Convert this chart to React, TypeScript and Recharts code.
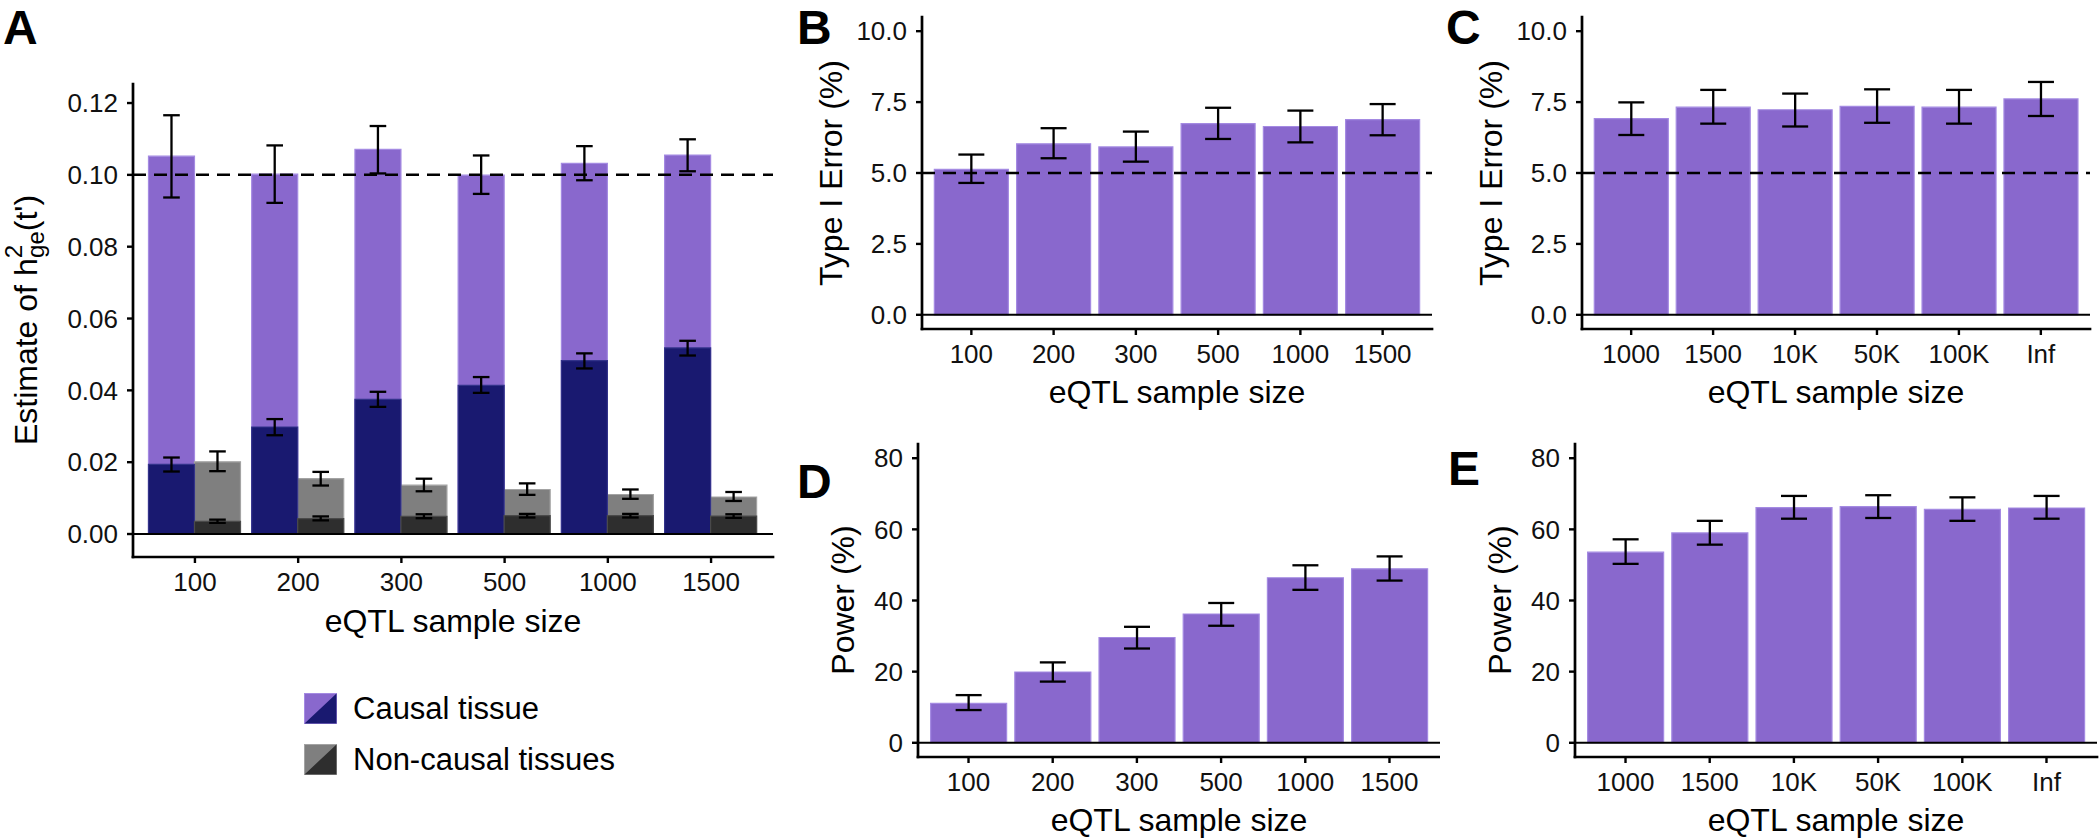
import React from 'react'
import { BarChart, Bar, XAxis, YAxis, ErrorBar, ReferenceLine, Legend } from 'recharts'

const FONT = '"Liberation Sans", Arial, Helvetica, sans-serif'

const PURPLE = '#8968CD'
const PURPLE_EDGE = '#A48AE2'
const NAVY = '#191970'
const NAVY_EDGE = '#33338A'
const GRAY = '#7F7F7F'
const GRAY_EDGE = '#A3A3A3'
const DARK = '#2E2E2E'
const DARK_EDGE = '#4A4A4A'

// panel A: estimate of h2ge(t') by eQTL sample size
const sizesA = ['100', '200', '300', '500', '1000', '1500']
const causalTotal = [0.1052, 0.1002, 0.1071, 0.0999, 0.1032, 0.1055]
const causalTotalLo = [0.0937, 0.0922, 0.1004, 0.0947, 0.0985, 0.101]
const causalTotalHi = [0.1166, 0.1082, 0.1136, 0.1054, 0.108, 0.1099]
const causalPart = [0.0194, 0.0298, 0.0375, 0.0414, 0.0483, 0.0518]
const causalPartLo = [0.0174, 0.0275, 0.0354, 0.0393, 0.0461, 0.0497]
const causalPartHi = [0.0213, 0.032, 0.0396, 0.0437, 0.0503, 0.0538]
const nonTotal = [0.0201, 0.0154, 0.0136, 0.0124, 0.011, 0.0103]
const nonTotalLo = [0.0175, 0.0135, 0.0119, 0.0109, 0.0098, 0.0092]
const nonTotalHi = [0.023, 0.0173, 0.0154, 0.0141, 0.0124, 0.0117]
const nonPart = [0.0035, 0.0043, 0.0049, 0.0051, 0.0051, 0.005]
const nonPartLo = [0.0031, 0.0038, 0.0044, 0.0046, 0.0046, 0.0045]
const nonPartHi = [0.004, 0.0049, 0.0055, 0.0056, 0.0056, 0.0055]
const ticksA = [0, 0.02, 0.04, 0.06, 0.08, 0.1, 0.12]
const legendA = [
  { label: 'Causal tissue', light: PURPLE, dark: NAVY, edge: PURPLE_EDGE },
  { label: 'Non-causal tissues', light: GRAY, dark: DARK, edge: GRAY_EDGE },
]

// panels B-E
const sizesSmall = ['100', '200', '300', '500', '1000', '1500']
const sizesLarge = ['1000', '1500', '10K', '50K', '100K', 'Inf']

const typeISmall = [5.13, 6.03, 5.92, 6.74, 6.64, 6.88]
const typeISmallLo = [4.65, 5.52, 5.4, 6.2, 6.08, 6.33]
const typeISmallHi = [5.65, 6.58, 6.46, 7.3, 7.2, 7.43]

const typeILarge = [6.92, 7.32, 7.23, 7.35, 7.32, 7.61]
const typeILargeLo = [6.34, 6.74, 6.64, 6.77, 6.74, 7.01]
const typeILargeHi = [7.49, 7.93, 7.8, 7.95, 7.93, 8.21]

const powerSmall = [11.1, 19.9, 29.6, 36.2, 46.4, 48.9]
const powerSmallLo = [9.2, 17.2, 26.5, 32.9, 43.0, 45.6]
const powerSmallHi = [13.4, 22.6, 32.6, 39.3, 49.9, 52.4]

const powerLarge = [53.6, 59.0, 66.1, 66.4, 65.6, 66.0]
const powerLargeLo = [50.3, 55.7, 63.0, 63.2, 62.4, 63.0]
const powerLargeHi = [57.2, 62.4, 69.4, 69.6, 69.0, 69.4]

const ticksTypeI = [0, 2.5, 5, 7.5, 10]
const ticksPower = [0, 20, 40, 60, 80]

const withErr = (v: number, lo: number, hi: number) => [v - lo, hi - v]

const dataA = sizesA.map((n, i) => ({
  n,
  causalTotal: causalTotal[i],
  causalTotalErr: withErr(causalTotal[i], causalTotalLo[i], causalTotalHi[i]),
  causalPart: causalPart[i],
  causalPartErr: withErr(causalPart[i], causalPartLo[i], causalPartHi[i]),
  nonTotal: nonTotal[i],
  nonTotalErr: withErr(nonTotal[i], nonTotalLo[i], nonTotalHi[i]),
  nonPart: nonPart[i],
  nonPartErr: withErr(nonPart[i], nonPartLo[i], nonPartHi[i]),
}))

const makeData = (sizes: string[], v: number[], lo: number[], hi: number[]) =>
  sizes.map((n, i) => ({ n, v: v[i], err: withErr(v[i], lo[i], hi[i]) }))

const axisLineStyle = { stroke: '#000', strokeWidth: 2.7, strokeLinecap: 'square' as const }
const tickLineStyle = { stroke: '#000', strokeWidth: 2.4 }
const tickStyle = { fill: '#111', fontSize: 26, fontFamily: FONT }

function LegendBoxes() {
  return (
    <div style={{ fontFamily: FONT }}>
      {legendA.map((it, i) => (
        <div key={it.label} style={{ display: 'flex', alignItems: 'center', height: 31, marginBottom: i === 0 ? 20 : 0 }}>
          <svg width={33} height={31} style={{ display: 'block' }}>
            <rect x={0.5} y={0.5} width={32} height={30} fill={it.light} stroke={it.edge} strokeWidth={1} />
            <polygon points="0.5,30.5 32.5,0.5 32.5,30.5" fill={it.dark} />
          </svg>
          <span style={{ marginLeft: 16, fontSize: 31, lineHeight: '31px', color: '#000', whiteSpace: 'nowrap' }}>{it.label}</span>
        </div>
      ))}
    </div>
  )
}

function PanelA() {
  const plotW = 640
  const pad = plotW / 62
  return (
    <div style={{ position: 'absolute', left: 0, top: 0 }}>
      <BarChart
        width={800}
        height={839}
        data={dataA}
        margin={{ top: 84, right: 27, bottom: 192, left: 0 }}
        barCategoryGap="5%"
        barGap={0}
      >
        <XAxis
          xAxisId="back"
          dataKey="n"
          height={90}
          interval={0}
          padding={{ left: pad, right: pad }}
          axisLine={axisLineStyle}
          tickLine={tickLineStyle}
          tickSize={6}
          tickMargin={10}
          tick={tickStyle}
          label={() => (
            <text x={453} y={632} textAnchor="middle" fontSize={32} fill="#000" fontFamily={FONT}>
              eQTL sample size
            </text>
          )}
        />
        <XAxis xAxisId="front" dataKey="n" hide padding={{ left: pad, right: pad }} />
        <YAxis
          width={133}
          domain={[-0.0064, 0.1253]}
          allowDataOverflow
          ticks={ticksA}
          interval={0}
          tickFormatter={(v: number) => v.toFixed(2)}
          axisLine={axisLineStyle}
          tickLine={tickLineStyle}
          tickSize={6}
          tickMargin={9}
          tick={tickStyle}
          label={() => (
            <g fontFamily={FONT} fill="#000">
              <text x={3} y={44} fontSize={48} fontWeight="bold">A</text>
              <text x={37} y={320} transform="rotate(-90, 37, 320)" textAnchor="middle" fontSize={32}>
                Estimate of h
                <tspan fontSize={24} dy={-15}>2</tspan>
                <tspan fontSize={24} dx={-13} dy={22}>ge</tspan>
                <tspan dy={-7}>(t')</tspan>
              </text>
            </g>
          )}
        />
        <Bar xAxisId="back" dataKey="causalTotal" fill={PURPLE} stroke={PURPLE_EDGE} strokeWidth={1.2} isAnimationActive={false}>
          <ErrorBar dataKey="causalTotalErr" width={8.3} stroke="#000" strokeWidth={2.3} isAnimationActive={false} />
        </Bar>
        <Bar xAxisId="back" dataKey="nonTotal" fill={GRAY} stroke={GRAY_EDGE} strokeWidth={1.2} isAnimationActive={false}>
          <ErrorBar dataKey="nonTotalErr" width={8.3} stroke="#000" strokeWidth={2.3} isAnimationActive={false} />
        </Bar>
        <Bar xAxisId="front" dataKey="causalPart" fill={NAVY} stroke={NAVY_EDGE} strokeWidth={1.2} isAnimationActive={false}>
          <ErrorBar dataKey="causalPartErr" width={8.3} stroke="#000" strokeWidth={2.3} isAnimationActive={false} />
        </Bar>
        <Bar xAxisId="front" dataKey="nonPart" fill={DARK} stroke={DARK_EDGE} strokeWidth={1.2} isAnimationActive={false}>
          <ErrorBar dataKey="nonPartErr" width={8.3} stroke="#000" strokeWidth={2.3} isAnimationActive={false} />
        </Bar>
        <ReferenceLine xAxisId="back" y={0} stroke="#000" strokeWidth={2} />
        <ReferenceLine xAxisId="back" y={0.1} stroke="#000" strokeWidth={2.5} strokeDasharray="13 8" />
        <Legend
          layout="horizontal"
          verticalAlign="middle"
          align="center"
          wrapperStyle={{ left: 304, top: 693, width: 420, height: 90 }}
          content={() => <LegendBoxes />}
        />
      </BarChart>
    </div>
  )
}

type PanelProps = {
  left: number
  top: number
  width: number
  height: number
  margin: { top: number; right: number; bottom: number; left: number }
  yWidth: number
  data: { n: string; v: number; err: number[] }[]
  domain: [number, number]
  ticks: number[]
  digits: number
  refY?: number
  letter: string
  letterX: number
  letterY: number
  yTitle: string
  yTitleX: number
  yTitleY: number
  xTitleX: number
  xTitleY: number
}

function Panel(p: PanelProps) {
  const plotW = p.width - p.margin.left - p.margin.right - p.yWidth
  const pad = plotW / 62
  return (
    <div style={{ position: 'absolute', left: p.left, top: p.top }}>
      <BarChart width={p.width} height={p.height} data={p.data} margin={p.margin} barCategoryGap="5%">
        <XAxis
          dataKey="n"
          height={80}
          interval={0}
          padding={{ left: pad, right: pad }}
          axisLine={axisLineStyle}
          tickLine={tickLineStyle}
          tickSize={6}
          tickMargin={10}
          tick={tickStyle}
          label={() => (
            <text x={p.xTitleX} y={p.xTitleY} textAnchor="middle" fontSize={32} fill="#000" fontFamily={FONT}>
              eQTL sample size
            </text>
          )}
        />
        <YAxis
          width={p.yWidth}
          domain={p.domain}
          allowDataOverflow
          ticks={p.ticks}
          interval={0}
          tickFormatter={(v: number) => v.toFixed(p.digits)}
          axisLine={axisLineStyle}
          tickLine={tickLineStyle}
          tickSize={6}
          tickMargin={9}
          tick={tickStyle}
          label={() => (
            <g fontFamily={FONT} fill="#000">
              <text x={p.letterX} y={p.letterY} fontSize={48} fontWeight="bold">{p.letter}</text>
              <text
                x={p.yTitleX}
                y={p.yTitleY}
                transform={`rotate(-90, ${p.yTitleX}, ${p.yTitleY})`}
                textAnchor="middle"
                fontSize={32}
              >
                {p.yTitle}
              </text>
            </g>
          )}
        />
        <Bar dataKey="v" fill={PURPLE} stroke={PURPLE_EDGE} strokeWidth={1.2} isAnimationActive={false}>
          <ErrorBar dataKey="err" width={13} stroke="#000" strokeWidth={2.3} isAnimationActive={false} />
        </Bar>
        <ReferenceLine y={0} stroke="#000" strokeWidth={2} />
        {p.refY !== undefined && (
          <ReferenceLine y={p.refY} stroke="#000" strokeWidth={2.5} strokeDasharray="13 8" />
        )}
      </BarChart>
    </div>
  )
}

export default function App() {
  return (
    <div
      style={{
        position: 'absolute',
        left: 0,
        top: 0,
        width: 2100,
        height: 839,
        background: '#fff',
        overflow: 'hidden',
        fontFamily: FONT,
      }}
    >
      <PanelA />
      <Panel
        left={780} top={0} width={660} height={420}
        margin={{ top: 17, right: 8, bottom: 11, left: 0 }} yWidth={142}
        data={makeData(sizesSmall, typeISmall, typeISmallLo, typeISmallHi)}
        domain={[-0.5, 10.5]} ticks={ticksTypeI} digits={1} refY={5}
        letter="B" letterX={17} letterY={44}
        yTitle="Type I Error (%)" yTitleX={62} yTitleY={173}
        xTitleX={397} xTitleY={403}
      />
      <Panel
        left={1440} top={0} width={660} height={420}
        margin={{ top: 17, right: 10, bottom: 11, left: 0 }} yWidth={142}
        data={makeData(sizesLarge, typeILarge, typeILargeLo, typeILargeHi)}
        domain={[-0.5, 10.5]} ticks={ticksTypeI} digits={1} refY={5}
        letter="C" letterX={6} letterY={44}
        yTitle="Type I Error (%)" yTitleX={62} yTitleY={173}
        xTitleX={396} xTitleY={403}
      />
      <Panel
        left={780} top={420} width={660} height={419}
        margin={{ top: 24, right: 0, bottom: 2, left: 0 }} yWidth={138}
        data={makeData(sizesSmall, powerSmall, powerSmallLo, powerSmallHi)}
        domain={[-4, 84]} ticks={ticksPower} digits={0}
        letter="D" letterX={17} letterY={78}
        yTitle="Power (%)" yTitleX={74} yTitleY={180}
        xTitleX={399} xTitleY={411}
      />
      <Panel
        left={1440} top={420} width={660} height={419}
        margin={{ top: 24, right: 3, bottom: 2, left: 0 }} yWidth={135}
        data={makeData(sizesLarge, powerLarge, powerLargeLo, powerLargeHi)}
        domain={[-4, 84]} ticks={ticksPower} digits={0}
        letter="E" letterX={8} letterY={65}
        yTitle="Power (%)" yTitleX={71} yTitleY={180}
        xTitleX={396} xTitleY={411}
      />
    </div>
  )
}
